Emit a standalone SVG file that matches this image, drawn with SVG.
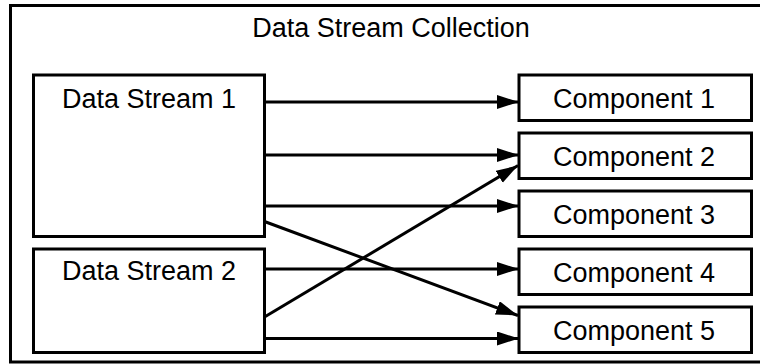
<svg xmlns="http://www.w3.org/2000/svg" width="760" height="364" viewBox="0 0 760 364">
  <style>
    .box { fill: #ffffff; stroke: #000000; stroke-width: 3; }
    .frame { fill: #ffffff; stroke: #000000; stroke-width: 3; }
    .lbl { font-family: "Liberation Sans", Arial, sans-serif; font-size: 27px; fill: #000000; text-anchor: middle; }
    .edge { stroke: #000000; stroke-width: 3; fill: none; marker-end: url(#arrow); }
  </style>
  <defs>
    <marker id="arrow" markerUnits="userSpaceOnUse" markerWidth="24" markerHeight="16" refX="22" refY="7" orient="auto">
      <path d="M0,0 L22,7 L0,14 z" fill="#000000"/>
    </marker>
  </defs>
  <rect width="760" height="364" fill="#ffffff"/>

  <g id="collection">
    <rect class="frame" x="10.5" y="5.5" width="762" height="356.5"/>
    <text class="lbl" x="391" y="37">Data Stream Collection</text>
  </g>

  <g id="stream1">
    <rect class="box" x="33.5" y="75" width="231" height="161.5"/>
    <text class="lbl" x="149" y="107.5">Data Stream 1</text>
  </g>
  <g id="stream2">
    <rect class="box" x="33.5" y="249" width="231" height="103.5"/>
    <text class="lbl" x="149" y="280">Data Stream 2</text>
  </g>

  <g id="component1">
    <rect class="box" x="519" y="75" width="232.5" height="45.5"/>
    <text class="lbl" x="634" y="108">Component 1</text>
  </g>
  <g id="component2">
    <rect class="box" x="519" y="133" width="232.5" height="45.5"/>
    <text class="lbl" x="634" y="166">Component 2</text>
  </g>
  <g id="component3">
    <rect class="box" x="519" y="191" width="232.5" height="45.5"/>
    <text class="lbl" x="634" y="224">Component 3</text>
  </g>
  <g id="component4">
    <rect class="box" x="519" y="249" width="232.5" height="45.5"/>
    <text class="lbl" x="634" y="282">Component 4</text>
  </g>
  <g id="component5">
    <rect class="box" x="519" y="307" width="232.5" height="45.5"/>
    <text class="lbl" x="634" y="340">Component 5</text>
  </g>

  <g id="connectors">
    <line class="edge" x1="264.5" y1="102" x2="519" y2="102"/>
    <line class="edge" x1="264.5" y1="155" x2="519" y2="155"/>
    <line class="edge" x1="264.5" y1="206" x2="519" y2="206"/>
    <line class="edge" x1="264.5" y1="221.5" x2="518" y2="315.5"/>
    <line class="edge" x1="264.5" y1="269" x2="519" y2="269"/>
    <line class="edge" x1="264.5" y1="317" x2="518" y2="165.5"/>
    <line class="edge" x1="264.5" y1="338.5" x2="519" y2="338.5"/>
  </g>
</svg>
